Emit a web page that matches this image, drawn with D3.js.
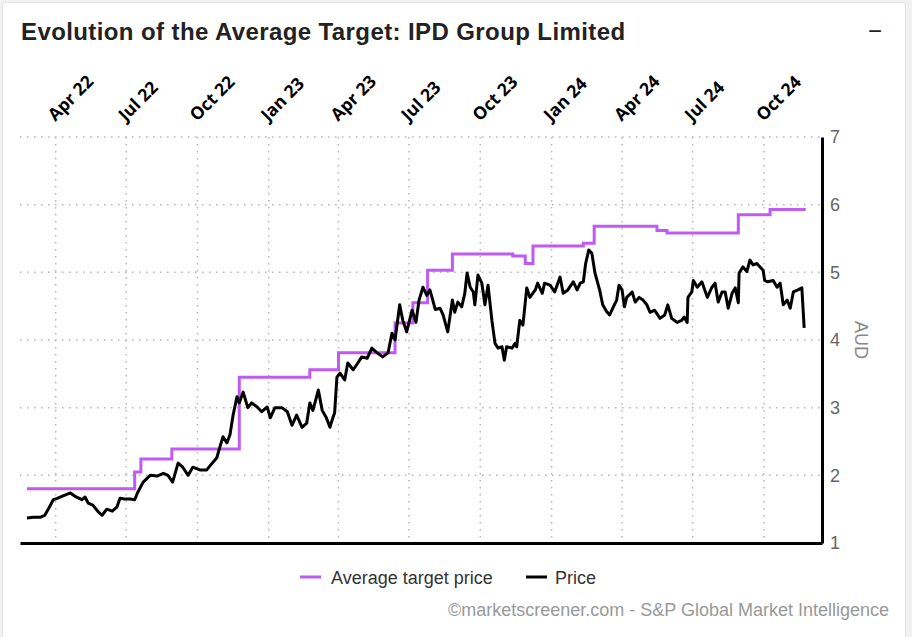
<!DOCTYPE html>
<html>
<head>
<meta charset="utf-8">
<script src="https://cdn.jsdelivr.net/npm/d3@7"></script>
<style>
  html, body { margin: 0; padding: 0; background: #f2f2f2; }
  body { width: 912px; height: 637px; overflow: hidden; position: relative; font-family: "Liberation Sans", Arial, sans-serif; }
  #card { position: absolute; left: 2px; top: 2px; width: 902px; height: 650px; background: #fff; border: 1px solid #e2e2e2; border-radius: 4px; }
  svg { position: absolute; left: 0; top: 0; }
</style>
</head>
<body>
<div id="card"></div>
<svg id="chart" width="912" height="637"></svg>
<script>
// ---- Data ----
const title = "Evolution of the Average Target: IPD Group Limited";
const quarterTicks = ["2022-04-01","2022-07-01","2022-10-01","2023-01-01","2023-04-01","2023-07-01","2023-10-01","2024-01-01","2024-04-01","2024-07-01","2024-10-01"];
const quarterLabels = ["Apr 22","Jul 22","Oct 22","Jan 23","Apr 23","Jul 23","Oct 23","Jan 24","Apr 24","Jul 24","Oct 24"];
const yTicks = [1, 2, 3, 4, 5, 6, 7];

const targetDates = ["2022-02-23","2022-07-12","2022-07-20","2022-08-29","2022-11-24","2023-02-23","2023-04-01","2023-06-13","2023-07-06","2023-07-25","2023-08-26","2023-11-12","2023-11-28","2023-12-08","2024-02-11","2024-02-25","2024-05-16","2024-05-29","2024-08-29","2024-10-09","2024-11-24"];
const targetValues = [1.80, 2.05, 2.24, 2.39, 3.45, 3.56, 3.81, 4.25, 4.55, 5.03, 5.27, 5.24, 5.13, 5.39, 5.43, 5.68, 5.62, 5.58, 5.85, 5.93, 5.93];

const priceDates = ["2022-02-23","2022-03-03","2022-03-12","2022-03-18","2022-03-22","2022-03-29","2022-04-03","2022-04-09","2022-04-20","2022-04-26","2022-05-05","2022-05-09","2022-05-13","2022-05-19","2022-05-26","2022-05-31","2022-06-06","2022-06-13","2022-06-19","2022-06-23","2022-06-29","2022-07-06","2022-07-12","2022-07-16","2022-07-23","2022-08-01","2022-08-10","2022-08-18","2022-08-24","2022-08-30","2022-09-06","2022-09-12","2022-09-19","2022-09-25","2022-10-04","2022-10-13","2022-10-20","2022-10-26","2022-10-30","2022-11-03","2022-11-08","2022-11-12","2022-11-16","2022-11-21","2022-11-24","2022-11-29","2022-12-05","2022-12-10","2022-12-17","2022-12-23","2022-12-30","2023-01-03","2023-01-09","2023-01-18","2023-01-25","2023-01-31","2023-02-06","2023-02-13","2023-02-19","2023-02-23","2023-02-27","2023-03-06","2023-03-11","2023-03-16","2023-03-21","2023-03-25","2023-03-27","2023-03-30","2023-04-03","2023-04-09","2023-04-13","2023-04-20","2023-04-26","2023-05-01","2023-05-08","2023-05-14","2023-05-21","2023-05-28","2023-06-04","2023-06-09","2023-06-13","2023-06-19","2023-06-23","2023-06-28","2023-07-05","2023-07-10","2023-07-14","2023-07-19","2023-07-24","2023-07-28","2023-08-04","2023-08-10","2023-08-14","2023-08-20","2023-08-26","2023-08-29","2023-09-02","2023-09-07","2023-09-11","2023-09-14","2023-09-18","2023-09-22","2023-09-24","2023-09-28","2023-10-03","2023-10-07","2023-10-11","2023-10-16","2023-10-20","2023-10-24","2023-10-29","2023-11-01","2023-11-04","2023-11-11","2023-11-15","2023-11-17","2023-11-21","2023-11-25","2023-11-30","2023-12-04","2023-12-11","2023-12-14","2023-12-20","2023-12-23","2023-12-30","2024-01-05","2024-01-12","2024-01-16","2024-01-22","2024-01-29","2024-02-03","2024-02-07","2024-02-11","2024-02-14","2024-02-18","2024-02-22","2024-02-26","2024-03-03","2024-03-07","2024-03-12","2024-03-16","2024-03-20","2024-03-25","2024-03-28","2024-04-01","2024-04-04","2024-04-07","2024-04-14","2024-04-18","2024-04-23","2024-04-28","2024-05-03","2024-05-07","2024-05-13","2024-05-20","2024-05-26","2024-05-30","2024-06-04","2024-06-11","2024-06-17","2024-06-20","2024-06-24","2024-06-25","2024-06-30","2024-07-02","2024-07-07","2024-07-13","2024-07-20","2024-07-26","2024-07-30","2024-08-03","2024-08-08","2024-08-12","2024-08-16","2024-08-21","2024-08-25","2024-08-29","2024-08-30","2024-09-04","2024-09-09","2024-09-13","2024-09-17","2024-09-22","2024-09-26","2024-09-30","2024-10-02","2024-10-06","2024-10-13","2024-10-18","2024-10-22","2024-10-26","2024-10-31","2024-11-04","2024-11-08","2024-11-14","2024-11-19","2024-11-22"];
const priceValues = [1.37,1.38,1.38,1.41,1.49,1.64,1.66,1.69,1.74,1.69,1.64,1.68,1.59,1.56,1.46,1.41,1.50,1.47,1.53,1.66,1.65,1.65,1.64,1.75,1.90,2.00,1.99,2.03,2.00,1.90,2.18,2.12,2.00,2.12,2.08,2.08,2.18,2.26,2.42,2.57,2.48,2.60,2.89,3.16,3.07,3.23,3.00,3.07,3.01,2.94,3.01,2.85,3.00,3.00,2.94,2.74,2.89,2.71,2.77,3.07,2.96,3.26,2.96,2.86,2.71,2.86,2.92,3.45,3.51,3.41,3.66,3.56,3.66,3.75,3.73,3.88,3.81,3.75,3.81,4.10,4.00,4.52,4.29,4.12,4.44,4.26,4.59,4.78,4.66,4.74,4.45,4.47,4.37,4.12,4.59,4.41,4.56,4.49,4.69,4.99,4.78,4.71,4.52,4.96,4.84,4.52,4.81,4.29,3.95,3.88,3.90,3.70,3.90,3.88,3.95,3.90,4.29,4.22,4.77,4.63,4.74,4.84,4.69,4.84,4.81,4.71,4.93,4.69,4.74,4.86,4.74,4.84,4.86,5.13,5.33,5.28,4.99,4.74,4.52,4.42,4.37,4.47,4.59,4.81,4.74,4.49,4.63,4.71,4.56,4.63,4.59,4.52,4.41,4.44,4.32,4.37,4.52,4.32,4.26,4.29,4.34,4.26,4.63,4.71,4.88,4.78,4.86,4.63,4.78,4.84,4.56,4.71,4.71,4.47,4.69,4.77,4.55,4.99,5.08,5.01,5.18,5.11,5.13,5.08,5.03,4.88,4.86,4.88,4.78,4.84,4.52,4.59,4.47,4.71,4.74,4.77,4.18];

const legendItems = ["Average target price", "Price"];
const footer = "©marketscreener.com - S&P Global Market Intelligence";

// ---- Layout ----
const parse = d3.timeParse("%Y-%m-%d");
const pLeft = 20, pRight = 822, pTop = 137, pBottom = 543;
const purple = "#bf5af2";
const sansFont = "'Liberation Sans', Arial, sans-serif";

const svg = d3.select("#chart");
const x = d3.scaleTime().domain([parse("2022-02-14"), parse("2024-12-15")]).range([pLeft, pRight]);
const y = d3.scaleLinear().domain([1, 7]).range([pBottom, pTop]);

svg.append("text").attr("x", 21).attr("y", 40)
  .attr("font-size", 24).attr("font-weight", "bold").attr("fill", "#222")
  .attr("letter-spacing", 0.4)
  .text(title);
svg.append("text").attr("x", 875).attr("y", 39).attr("text-anchor", "middle")
  .attr("font-size", 24).attr("fill", "#222").text("−");

// gridlines
const grid = svg.append("g");
grid.selectAll("line.h").data(yTicks.slice(1)).join("line")
  .attr("x1", pLeft).attr("x2", pRight).attr("y1", d => y(d)).attr("y2", d => y(d))
  .attr("stroke", "#b5b5b5").attr("stroke-width", 1.5).attr("stroke-dasharray", "1.5,5.5");
const qDates = quarterTicks.map(parse);
grid.selectAll("line.v").data(qDates).join("line")
  .attr("x1", d => x(d)).attr("x2", d => x(d)).attr("y1", pTop).attr("y2", pBottom)
  .attr("stroke", "#b5b5b5").attr("stroke-width", 1.5).attr("stroke-dasharray", "1.5,5.5");

// top axis labels
const topAxis = d3.axisTop(x).tickValues(qDates).tickSize(0).tickFormat((d, i) => quarterLabels[i]);
const ta = svg.append("g").attr("transform", `translate(0,${pTop - 15})`).call(topAxis);
ta.select(".domain").remove();
ta.selectAll("text")
  .attr("font-family", "'Open Sans', sans-serif")
  .attr("font-size", 17.5).attr("font-weight", "bold").attr("fill", "#000")
  .attr("text-anchor", "start").attr("dy", 0).attr("y", 0)
  .attr("transform", "translate(-1,0) rotate(-45)");

// right axis
const rightAxis = d3.axisRight(y).tickValues(yTicks).tickSize(0).tickPadding(8).tickFormat(d3.format("d"));
const ra = svg.append("g").attr("transform", `translate(${pRight},0)`).call(rightAxis);
ra.select(".domain").attr("stroke", "#000").attr("stroke-width", 3);
ra.selectAll("text").attr("font-family", sansFont)
  .attr("font-size", 18).attr("fill", "#666");
svg.append("text").attr("transform", `translate(855,${(pTop + pBottom) / 2}) rotate(90)`)
  .attr("text-anchor", "middle").attr("font-size", 18).attr("fill", "#888").text("AUD");

// bottom line
const bottomAxis = d3.axisBottom(x).tickValues([]).tickSizeOuter(0);
const ba = svg.append("g").attr("transform", `translate(0,${pBottom})`).call(bottomAxis);
ba.select(".domain").attr("stroke", "#000").attr("stroke-width", 3);

// series
const target = targetDates.map((d, i) => ({ d: parse(d), v: targetValues[i] }));
const price = priceDates.map((d, i) => ({ d: parse(d), v: priceValues[i] }));

svg.append("path").datum(target)
  .attr("fill", "none").attr("stroke", purple).attr("stroke-width", 3)
  .attr("d", d3.line().x(p => x(p.d)).y(p => y(p.v)).curve(d3.curveStepAfter));
svg.append("path").datum(price)
  .attr("fill", "none").attr("stroke", "#000").attr("stroke-width", 3).attr("stroke-linejoin", "round")
  .attr("d", d3.line().x(p => x(p.d)).y(p => y(p.v)));

// legend
const legend = svg.append("g").attr("transform", "translate(300,577)");
const legColors = [purple, "#000"];
const legX = [0, 226];
legendItems.forEach((t, i) => {
  const g = legend.append("g").attr("transform", `translate(${legX[i]},0)`);
  g.append("line").attr("x1", 0).attr("x2", 21).attr("y1", 0).attr("y2", 0)
    .attr("stroke", legColors[i]).attr("stroke-width", 3);
  g.append("text").attr("x", i === 0 ? 31 : 29).attr("y", 6.5).attr("font-size", 18).attr("fill", "#333").text(t);
});

svg.append("text").attr("x", 889).attr("y", 616).attr("text-anchor", "end")
  .attr("font-size", 18).attr("fill", "#999").text(footer);
</script>
</body>
</html>
